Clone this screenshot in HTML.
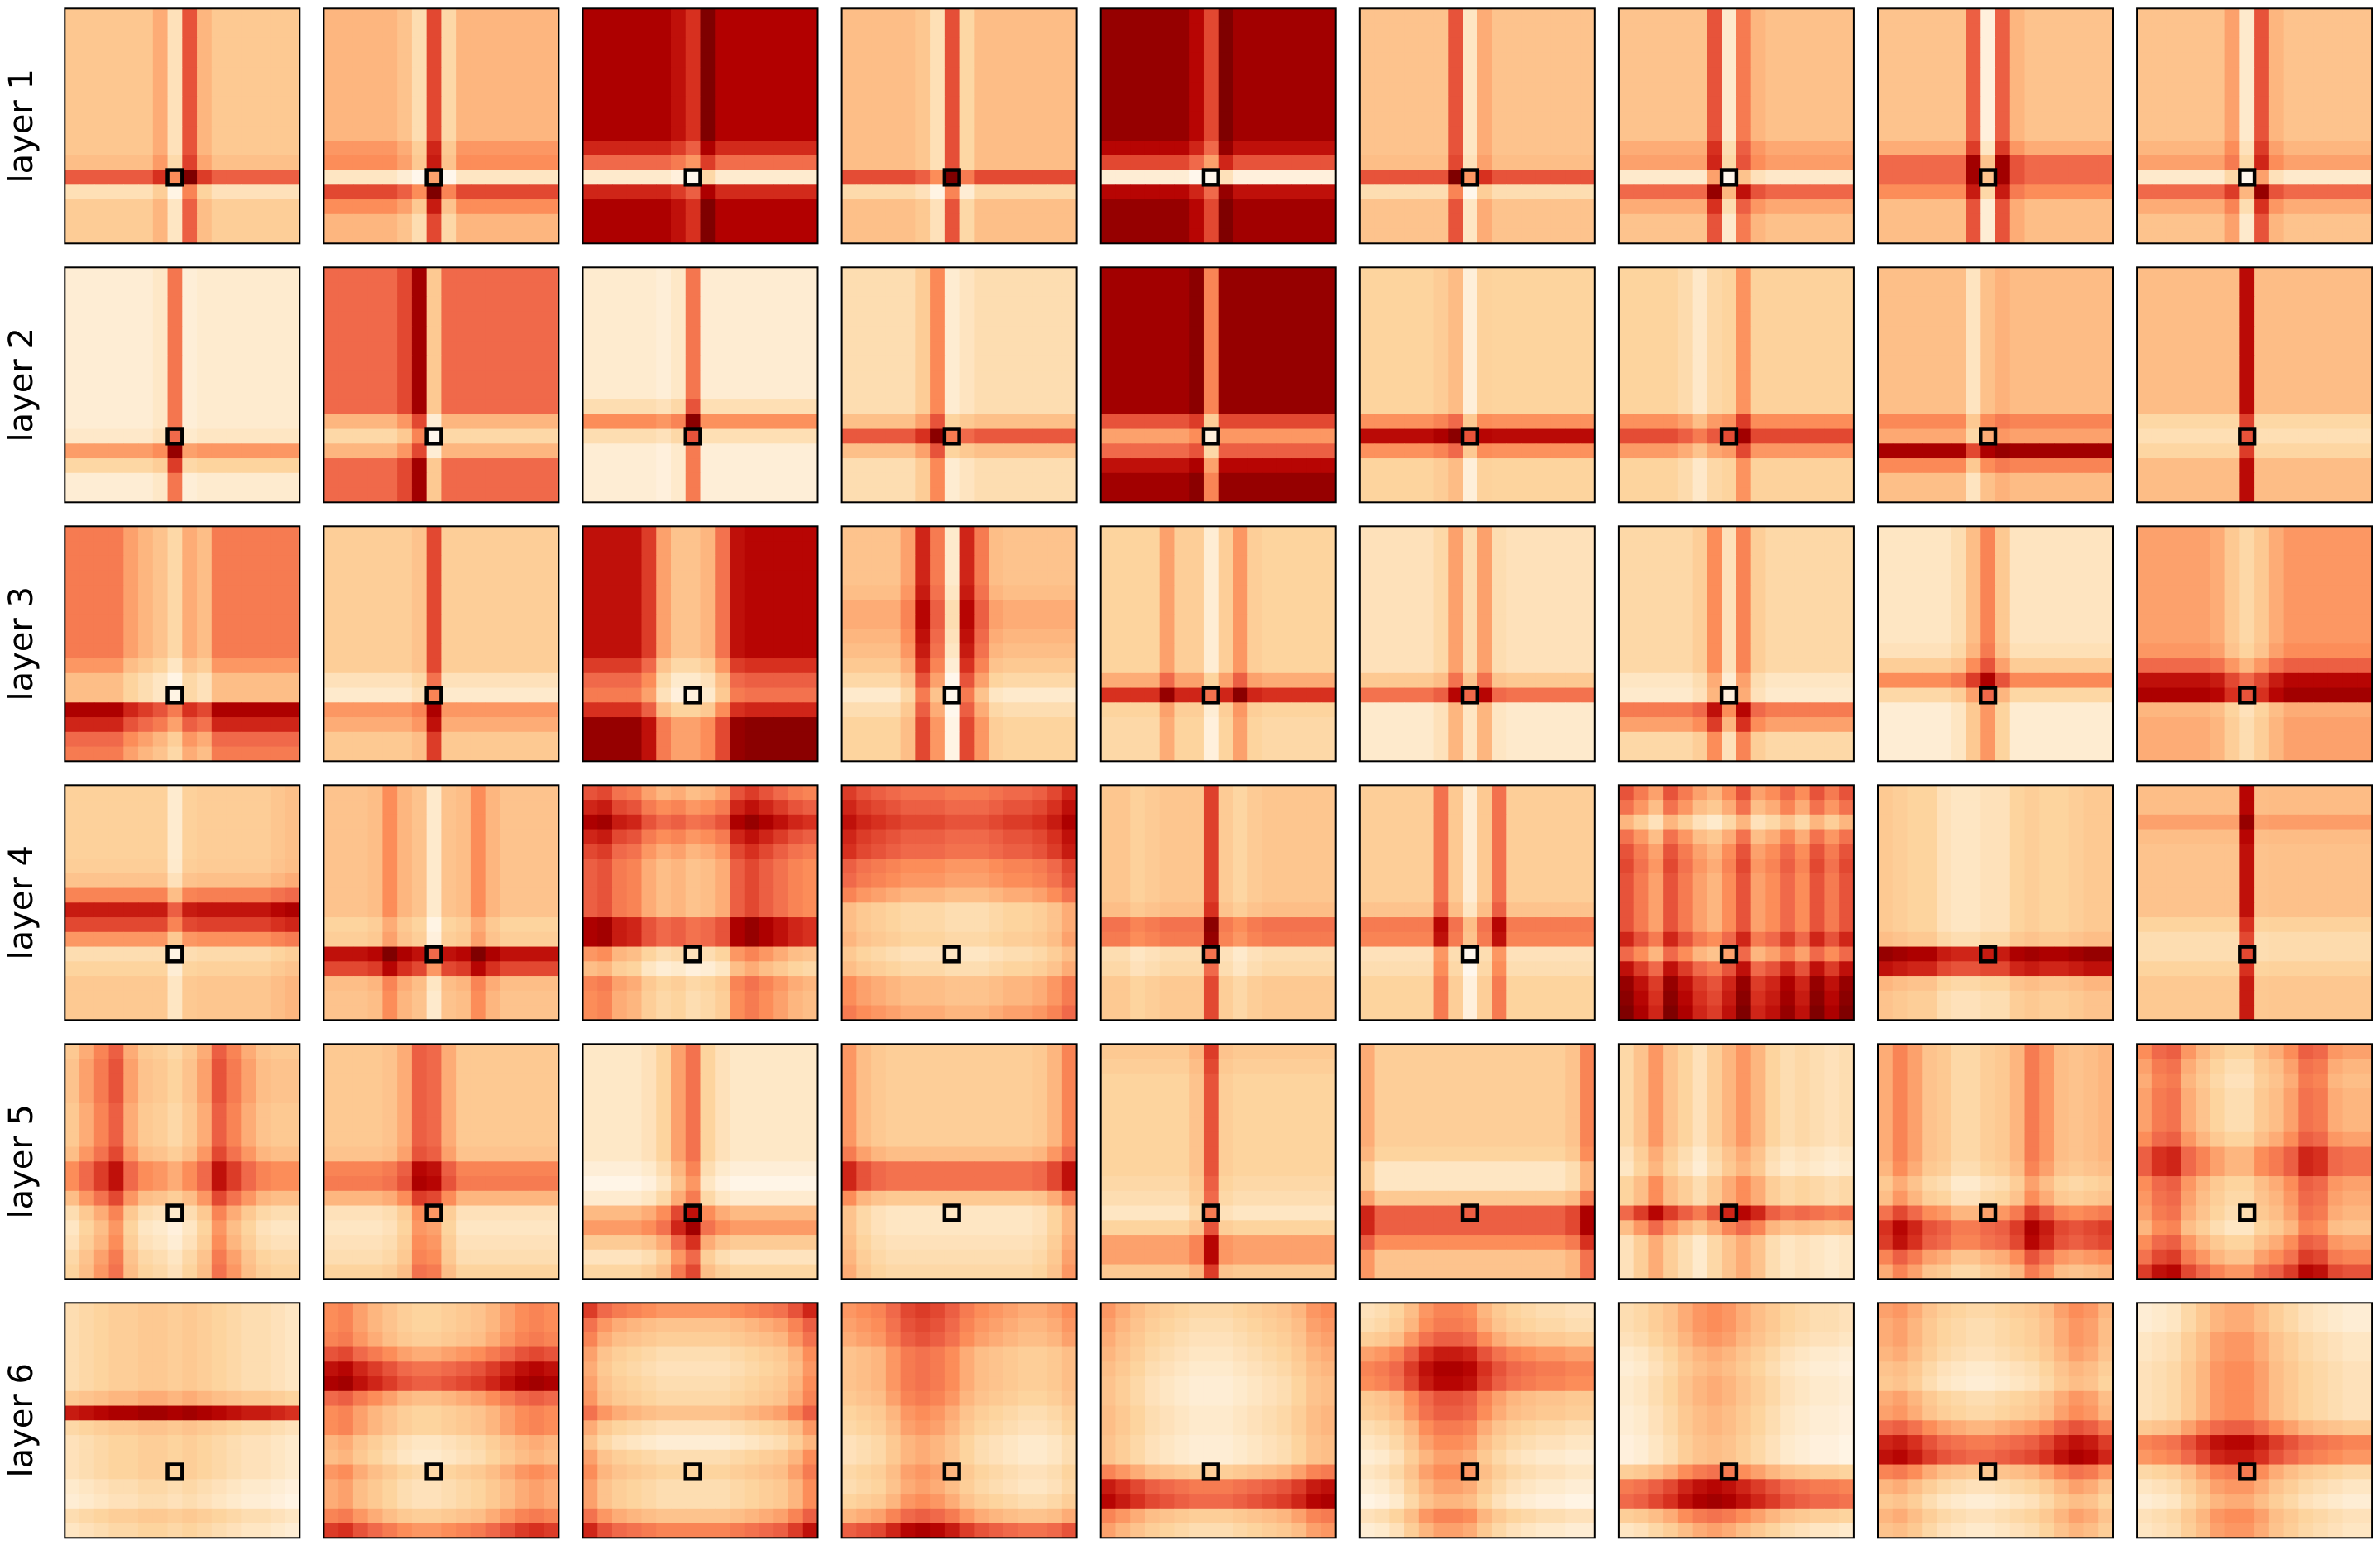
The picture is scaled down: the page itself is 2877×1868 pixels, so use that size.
<!DOCTYPE html>
<html>
<head>
<meta charset="utf-8">
<style>
html,body{margin:0;padding:0;background:#fff;}
svg{display:block;}
text{font-family:"DejaVu Sans","Liberation Sans",sans-serif;}
</style>
</head>
<body>
<svg id="chart" width="2877" height="1868" viewBox="0 0 2877 1868" xmlns="http://www.w3.org/2000/svg">
<rect x="0" y="0" width="2877" height="1868" fill="#ffffff"/>
<g id="panels"></g>
</svg>
<script>
const layerLabels = ["layer 1","layer 2","layer 3","layer 4","layer 5","layer 6"];
const queryRow = 11;
const queryCol = 7;
const rowProfiles = [
[3,3,3,3,3,3,3,3,3,3,3.8,9,0.5,2.5,2.5,2.5],
[3.5,3.5,3.5,3.5,3.5,3.5,3.5,3.5,3.5,5,5.5,-1,9,5.5,3.5,3.5],
[8,8,8,8,8,8,8,8,8,6,3,-6,6,8,8,8],
[3.2,3.2,3.2,3.2,3.2,3.2,3.2,3.2,3.2,3.2,3.2,9,0.5,3,3,3],
[8.5,8.5,8.5,8.5,8.5,8.5,8.5,8.5,8.5,7,4,-7,7,8.5,8.5,8.5],
[3,3,3,3,3,3,3,3,3,3,3.5,9,0.5,3,3,3],
[3,3,3,3,3,3,3,3,3,4.5,5,-1,8,4.5,3,3],
[3,3,3,3,3,3,3,3,3,4.5,8,8,6,3.5,3.5,3.5],
[3,3,3,3,3,3,3,3,3,4,5,-1,8,4.5,3,3],
[0.8,0.8,0.8,0.8,0.8,0.8,0.8,0.8,0.8,0.8,0.8,1.5,7.5,3.5,0.8,0.8],
[5.5,5.5,5.5,5.5,5.5,5.5,5.5,5.5,5.5,5.5,1.5,-1.5,1.5,5.5,5.5,5.5],
[0.8,0.8,0.8,0.8,0.8,0.8,0.8,0.8,0.8,2.5,8,2.5,0.5,0.5,0.5,0.5],
[1.7,1.7,1.7,1.7,1.7,1.7,1.7,1.7,1.7,1.7,4.5,10,4.5,1.7,1.7,1.7],
[8.5,8.5,8.5,8.5,8.5,8.5,8.5,8.5,8.5,8.5,4,0,3,7,8.5,8.5],
[2.2,2.2,2.2,2.2,2.2,2.2,2.2,2.2,2.2,2.2,6.5,13,6.5,2.2,2.2,2.2],
[2.2,2.2,2.2,2.2,2.2,2.2,2.2,2.2,2.2,2.2,6.5,10,6,2.2,2.2,2.2],
[3.2,3.2,3.2,3.2,3.2,3.2,3.2,3.2,3.2,3.2,6,4.5,13,6,3.2,3.2],
[3.3,3.3,3.3,3.3,3.3,3.3,3.3,3.3,3.3,3.3,0.8,0,1,3.3,3.3,3.3],
[5,5,5,5,5,5,5,5,5,3.5,1.5,1.5,11,9,6,5],
[2.5,2.5,2.5,2.5,2.5,2.5,2.5,2.5,2.5,2.5,0.5,-0.5,6,5,3,3],
[8,8,8,8,8,8,8,8,8,6,4,3,6.5,10,10,10],
[3,3,3,3,3.5,4.5,4.5,4,3.5,2.5,1,-1,0.5,1.5,1.5,1.5],
[2,2,2,2,2,2,2,2,2,2,5,11,2,1.5,1.5,1.5],
[1.5,1.5,1.5,1.5,1.5,1.5,1.5,1.5,1.5,1.5,4,9,0.5,0.5,0.5,0.5],
[2,2,2,2,2,2,2,2,2,2,0.5,0,8,6,2,2],
[1.5,1.5,1.5,1.5,1.5,1.5,1.5,1.5,2,4,8,3,0.5,0.5,0.5,0.5],
[4,4,4,4,4,4,4,4,4.5,7,11,12,3,3.5,3.5,3.5],
[2.3,2.3,2.3,2.3,2.3,2.5,3.5,7,12,10,6,1,2,3,3,3],
[3,3,3,3,3,3,3,3,3,1.5,2,12,9.5,3.5,3,3],
[6,8,10,8,6.5,5.5,5.5,5.5,5.5,10,10,2.5,0.5,3.5,3,3],
[8,9,10,9,8.5,6.5,6,4.5,1.5,1.5,2,0.5,1.5,4,4,5],
[2.8,2.8,2.8,2.8,2.8,2.8,2.8,2.8,3.5,7.5,7,0.5,1,2.5,2.5,2.5],
[2.5,2.5,2.5,2.5,2.5,2.5,2.5,2.5,3.5,7.5,7,0.5,1,2,2,2],
[5,3.5,0,3.5,5,5.5,5,5,5,5,7,4,8,10,10.5,11],
[2.5,2.5,2.5,2.5,2.5,2.5,2.5,2.5,2.5,2.5,3.5,14,12,4,3,3],
[3.5,3.5,5,3.5,3,3,3,3,3,1.5,0.5,0.5,1.5,2.5,2.5,2.5],
[2.5,3,3,3,2.5,2.5,2.5,3.5,6,6,3.5,0.5,-0.5,0,1,1.5],
[2.5,2.5,2.5,2.5,2.5,2.5,2.5,3,6.5,7,4,0,-0.5,0,0.5,1.5],
[1.5,1.5,1.5,1.5,1.5,1.5,1.5,1.5,0.5,-0.5,1,6,7.5,4.5,2,3.5],
[2.5,2.5,2.5,2.5,2.5,2.5,2.5,4,8,8,3,0,0,0.5,1,1.5],
[3,2.5,2,2,2,2,2,2,2,1.5,1,0,2,5.5,5.5,3],
[2.5,2.5,2.5,2.5,2.5,2.5,2.5,2,0,0,3,9,9,6.5,3.5,3.5],
[2,2,2,2,2,2,2,1,0.5,2.5,2.5,9,4.5,1,1,1],
[3,3,3,3,3,3,3,3,2.5,1,2,6,9,8.5,5,3],
[4,3,2.5,3,3,3,4,6.5,6.5,4,3.5,3,2,4,5.5,8],
[1,1,1,1,1,1,3,12,1.5,0.5,0.5,0.5,-0.5,-1,1,0],
[4,4,4.5,7,10,11,6,4,4,2,1.5,3.5,2.5,2.5,4.5,8],
[7,4.5,3.5,2,1.5,2,2.5,4.5,1.5,0,2,3,2,2,4.5,8],
[6,5.5,5,3.5,3.5,3.5,3,2,1.5,0.5,0.5,1.5,1,2,4.5,9],
[3,2.5,2,1.5,1,0.5,0.5,1,1,0.5,0.5,4,9,10,4,2.5],
[2.5,3,4.5,7.5,9,8.5,5,4.5,3,2,1,2,1,0,2.5,1],
[2.5,2.5,2,1,0.5,1,1,0.5,0.5,0,0,4,9,10,4,1.5],
[3,2.5,2.5,2,1,0.5,2.5,3,6,9,10,4.5,2,0.5,2,1],
[1,1,2,2,2.5,2.5,2.5,2.5,5,9,8,3.5,2,1,2.5,2]
];
const colProfiles = [
[2.7,2.7,2.7,2.7,2.7,2.7,4.5,0,9,4,2.5,2.5,2.5,2.5,2.5,2.5],
[3.5,3.5,3.5,3.5,3.5,2.5,0,9,0.5,3.5,3.5,3.5,3.5,3.5,3.5,3.5],
[8,8,8,8,8,8,7,5.5,10,7.8,7.8,7.8,7.8,7.8,7.8,7.8],
[3.3,3.3,3.3,3.3,3.3,2.5,0,9,1,3.4,3.4,3.4,3.4,3.4,3.4,3.4],
[8.5,8.5,8.5,8.5,8.5,8.5,7,4,10,8,8,8,8,8,8,8],
[3,3,3,3,3,3,9,-0.5,4.5,3,3,3,3,3,3,3],
[3,3,3,3,3,3,9,-1,7,4,3.2,3.2,3.2,3.2,3.2,3.2],
[3,3,3,3,3,3,8.5,-2,8.5,4,3,3,3,3,3,3],
[3,3,3,3,3,3,5,-1,9,4,3,3,3,3,3,3],
[0.7,0.7,0.7,0.7,0.7,0.7,1.5,9.5,0.5,1,1,1,1,1,1,1],
[5.5,5.5,5.5,5.5,5.5,7,11,0,5.5,5.5,5.5,5.5,5.5,5.5,5.5,5.5],
[1,1,1,1,1,0.5,1.5,9.5,0.8,0.8,0.8,0.8,0.8,0.8,0.8,0.8],
[1.8,1.8,1.8,1.8,1.8,3.5,7.5,0,1,1.8,1.8,1.8,1.8,1.8,1.8,1.8],
[8,8,8,8,8,8,9,1,8.5,8.5,8.5,8.5,8.5,8.5,8.5,8.5],
[2.3,2.3,2.3,2.3,2.3,3,4.5,-1,2.5,2.3,2.3,2.3,2.3,2.3,2.3,2.3],
[2.3,2.3,2.3,2.3,1.5,0,1.8,2.3,6.5,2.5,2.5,2.5,2.5,2.5,2.5,2.5],
[3.2,3.2,3.2,3.2,3.2,3.2,-0.5,3,4,3.5,3.5,3.5,3.5,3.5,3.5,3.5],
[3.3,3.3,3.3,3.3,3.3,3.3,3.3,12,3.3,3.3,3.3,3.3,3.3,3.3,3.3,3.3],
[5,5,5,5,3,2,1,-1,2.5,1.5,5,5,5,5,5,5],
[2.5,2.5,2.5,2.5,2.5,2.5,3.5,10,2.5,2.5,2.5,2.5,2.5,2.5,2.5,2.5],
[7,7,7,7,5,0,-2,-2,-1,2.5,7,7.5,7.5,7.5,7.5,7.5],
[3,3,3,3,5,11,7,-1,11,7,3.5,3,3,3,3,3],
[2.5,2.5,2.5,2.5,6,3,3,-0.5,3,6.5,3,2.5,2.5,2.5,2.5,2.5],
[1.5,1.5,1.5,1.5,1.5,2.5,6.5,2,6.5,2,1.5,1.5,1.5,1.5,1.5,1.5],
[2,2,2,2,2,3,7,1,7.5,3,2,2,2,2,2,2],
[1,1,1,1,1,2,5,8,4,1.2,1.2,1.2,1.2,1.2,1.2,1.2],
[4,4,4,4,4,3.5,1.5,0,1.5,3.5,4.5,4.5,4.5,4.5,4.5,4.5],
[2.5,2.5,2.5,2.5,2.5,2.5,2.5,-0.5,2.5,2.8,2.8,2.8,2.8,2.8,3.5,4],
[3,3,3,3.5,6,4,3,-1,3,3.5,6,4,3,3,3,3],
[6,6.5,4.5,4,2,1,1.5,0.5,1,2,6,7,6,5,4,3.5],
[5,4,3.5,3,2.5,2.5,2.5,2,2,2,2.5,3,3,3.5,4.5,6],
[3,3,2,2.5,3,3,3,10,2.5,1.5,2.5,3,3,3,3,3],
[2.5,2.5,2.5,2.5,2.5,8,3,-1,3,8,2.5,2.5,2.5,2.5,2.5,2.5],
[7,5,3,7,5,3,2,4,7,3,4,6,4,7,5,7],
[3,2.5,2,2,0.5,0,0,0.5,0.5,2,2.5,2,2,2.5,3,3],
[3,3,3,3,3,3,3,12,3,3.2,3.2,3.2,3.2,3.2,3.2,3.2],
[3,5,7,9,5,3,2.5,1.5,3,5,9,7,5,3.5,3,3],
[3,3,3,3,3.5,5,9,8.5,5,3,3,3,3,3,3,3],
[0.8,0.8,0.8,0.8,1.5,3,6.5,9,3,1.5,0.8,0.8,0.8,0.8,0.8,0.8],
[6,4,3,2.5,2.5,2.5,2.5,2.5,2.5,2.5,2.5,2.5,2.5,3,4.5,7],
[2.5,2.5,2.5,2.5,2.5,2.5,4,10,3,2.5,2.5,2.5,2.5,2.5,2.5,2.5],
[5,2.5,2.5,2.5,2.5,2.5,2.5,2.5,2.5,2.5,2.5,2.5,2.5,2.5,3.5,7],
[2,4,6.5,4,2.5,1,3,5,6.5,5,2.5,1.5,2,1.5,1,1.5],
[4.5,6.5,5,3,2.5,1,1,2,2.5,4,7,5.5,3.5,3,3.5,4],
[5,7,7.5,4.5,3,1.5,0.5,0.5,2.5,3.5,5,7.5,7,4.5,4,4],
[2.5,3,3.5,4,4,4.5,4.5,4,4.5,4,3.5,3,2.5,2.5,2,1.5],
[5,5.5,4,3,2,1,0.5,0.5,1,1.5,2,3,4,5,5.5,5],
[6,4,3,2.5,2,1.5,1.5,1.5,1.5,1.5,2,2.5,3,3.5,5,7],
[2.5,3,3.5,5,6.5,7,6.5,5.5,4,3,2.5,2,1.5,1.5,2,3],
[5.5,4.5,3.5,2.5,2,1.5,1,1,1,1.5,2,2.5,3,4,5.5,6],
[0.5,1,2,4,6,7,7,6.5,4.5,3,2,1.5,1,1,0.5,0.5],
[1,1.5,2.5,3.5,5,6,6.5,6,5,4,3,2,1.5,1,1,0.5],
[5,5.5,4.5,3,2,1.5,1,1,1.5,2,2.5,3.5,5,6,5.5,4],
[0.5,1,1.5,3,4.5,6,6.5,6.5,5.5,4,3,2,1.5,1,0.5,0.5]
];

const stops = [[255,247,236],[254,232,200],[253,212,158],[253,187,132],[252,141,89],[239,101,72],[215,48,31],[179,0,0],[127,0,0]];
function colorAt(t){
  t = Math.max(0, Math.min(1, t));
  const p = t * (stops.length - 1);
  const i = Math.min(stops.length - 2, Math.floor(p));
  const f = p - i;
  const a = stops[i], b = stops[i+1];
  return 'rgb(' + Math.round(a[0]+(b[0]-a[0])*f) + ',' + Math.round(a[1]+(b[1]-a[1])*f) + ',' + Math.round(a[2]+(b[2]-a[2])*f) + ')';
}
const NS = 'http://www.w3.org/2000/svg';
const root = document.getElementById('panels');
const x0 = 78.3, y0 = 10.3, pitchX = 313.1, pitchY = 313.0, size = 284, n = 16;
const cell = size / n;

layerLabels.forEach(function(lbl, li){
  const t = document.createElementNS(NS, 'text');
  const cy = y0 + li * pitchY + size / 2;
  t.setAttribute('x', 0);
  t.setAttribute('y', 0);
  t.setAttribute('font-size', '40');
  t.setAttribute('text-anchor', 'middle');
  t.setAttribute('dominant-baseline', 'central');
  t.setAttribute('transform', 'translate(26,' + cy + ') rotate(-90)');
  t.setAttribute('fill', '#000');
  t.textContent = lbl;
  
  
  root.appendChild(t);
});

for (let k = 0; k < rowProfiles.length; k++) {
  const li = Math.floor(k / 9), hi = k % 9;
  const px = x0 + hi * pitchX, py = y0 + li * pitchY;
  const g = document.createElementNS(NS, 'g');
  
  
  const rp = rowProfiles[k], cp = colProfiles[k];
  for (let r = 0; r < n; r++) {
    for (let c = 0; c < n; c++) {
      const rect = document.createElementNS(NS, 'rect');
      rect.setAttribute('x', (px + c * cell).toFixed(2));
      rect.setAttribute('y', (py + r * cell).toFixed(2));
      rect.setAttribute('width', (cell + 0.6).toFixed(2));
      rect.setAttribute('height', (cell + 0.6).toFixed(2));
      rect.setAttribute('fill', colorAt((rp[r] + cp[c]) / 18));
      
      
      g.appendChild(rect);
    }
  }
  const frame = document.createElementNS(NS, 'rect');
  frame.setAttribute('x', px);
  frame.setAttribute('y', py);
  frame.setAttribute('width', size);
  frame.setAttribute('height', size);
  frame.setAttribute('fill', 'none');
  frame.setAttribute('stroke', '#000');
  frame.setAttribute('stroke-width', '2');
  
  
  g.appendChild(frame);
  const q = document.createElementNS(NS, 'rect');
  q.setAttribute('x', (px + queryCol * cell).toFixed(2));
  q.setAttribute('y', (py + queryRow * cell).toFixed(2));
  q.setAttribute('width', cell.toFixed(2));
  q.setAttribute('height', cell.toFixed(2));
  q.setAttribute('fill', 'none');
  q.setAttribute('stroke', '#000');
  q.setAttribute('stroke-width', '4.5');
  
  
  g.appendChild(q);
  root.appendChild(g);
}
</script>
</body>
</html>
